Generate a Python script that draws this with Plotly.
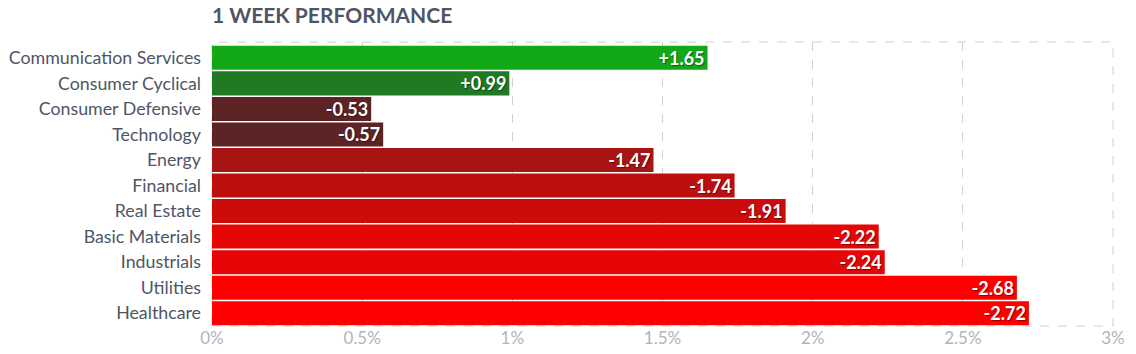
import plotly.graph_objects as go

categories = ["Communication Services", "Consumer Cyclical", "Consumer Defensive", "Technology",
              "Energy", "Financial", "Real Estate", "Basic Materials", "Industrials",
              "Utilities", "Healthcare"]
values = [1.65, 0.99, -0.53, -0.57, -1.47, -1.74, -1.91, -2.22, -2.24, -2.68, -2.72]
colors = ["#12a817", "#1f7a23", "#5c2424", "#5c2424", "#a81414", "#be0f0f", "#cc0b0b",
          "#e60606", "#e60606", "#ff0000", "#ff0000"]
tick_vals = [0, 0.5, 1, 1.5, 2, 2.5, 3]
tick_text = ["0%", "0.5%", "1%", "1.5%", "2%", "2.5%", "3%"]

labels = [("+" if v > 0 else "") + f"{v:.2f}" for v in values]

fig = go.Figure(go.Bar(
    y=categories,
    x=[abs(v) for v in values],
    orientation="h",
    marker=dict(color=colors, line=dict(width=0)),
    text=labels,
    textposition="inside",
    insidetextanchor="end",
    constraintext="none",
    textangle=0,
    textfont=dict(family="Lato", size=18, color="white", weight="bold",
                  shadow="1px 1px 1px rgba(0,0,0,0.45)"),
    cliponaxis=False,
    hoverinfo="skip",
))

fig.update_layout(
    width=1136, height=354,
    margin=dict(l=212, r=23, t=42, b=28),
    paper_bgcolor="white", plot_bgcolor="white",
    bargap=0.06,
    showlegend=False,
    font=dict(family="Lato", color="#4f5564"),
    title=dict(text="<b>1 WEEK PERFORMANCE</b>", x=212/1136, xanchor="left",
               y=1 - 16/354, yanchor="middle",
               font=dict(family="Lato", size=21, color="#4f5564")),
    shapes=[dict(type="rect", xref="paper", yref="paper", x0=0, x1=1, y0=0, y1=1,
                 line=dict(color="#d0d0d6", width=1, dash="dash"), layer="below")],
)
fig.update_xaxes(range=[0, 3], tickvals=tick_vals, ticktext=tick_text, automargin=False,
                 showgrid=True, gridcolor="#d0d0d6", griddash="dash", gridwidth=1,
                 zeroline=False, showline=False, ticks="",
                 tickfont=dict(family="Lato", size=17, color="#b3b3bb"))
fig.update_yaxes(range=[len(categories) - 0.5, -0.62], showgrid=False, zeroline=False,
                 showline=False, ticks="", ticklabelstandoff=10, automargin=False,
                 tickfont=dict(family="Lato", size=17.8, color="#4f5564"))

fig.write_html("out.html")
